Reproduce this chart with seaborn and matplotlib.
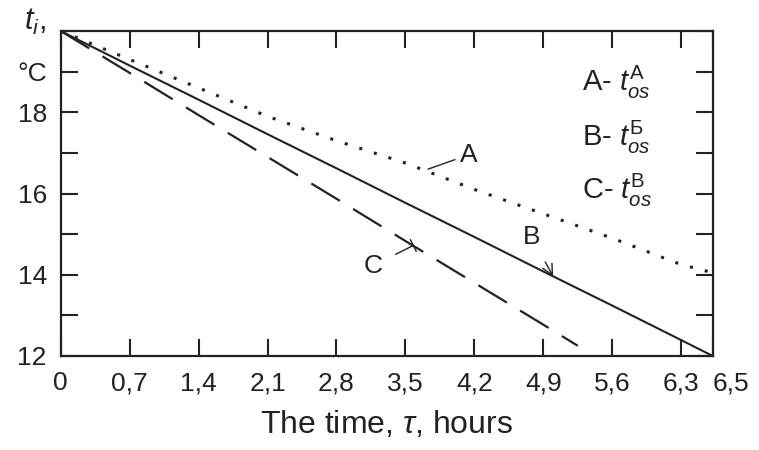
import matplotlib
matplotlib.use("Agg")
import matplotlib.pyplot as plt
import seaborn as sns
import numpy as np
import pandas as pd

# valores (horas, °C)
tempo = [0, 0.7, 1.4, 2.1, 2.8, 3.5, 4.2, 4.9, 5.6, 6.3, 6.62]
t_a = [20, 19.3, 18.6, 17.9, 17.3, 16.75, 16.1, 15.5, 14.9, 14.25, 14.05]
t_b = [20, 19.15, 18.31, 17.46, 16.62, 15.77, 14.93, 14.08, 13.24, 12.39, 12.0]
tempo_c = [0, 0.7, 1.4, 2.1, 2.8, 3.5, 4.2, 4.9, 5.25]
t_c = [20, 18.97, 17.93, 16.9, 15.87, 14.83, 13.8, 12.77, 12.25]

x_ticks = [0, 0.7, 1.4, 2.1, 2.8, 3.5, 4.2, 4.9, 5.6, 6.3, 6.62]
x_labels = ["0", "0,7", "1,4", "2,1", "2,8", "3,5", "4,2", "4,9", "5,6", "6,3", "6,5"]
y_ticks = [12, 13, 14, 15, 16, 17, 18, 19, 20]
y_labels = ["12", "", "14", "", "16", "", "18", "°C", ""]

sns.set_style("ticks")
plt.rcParams['font.family'] = ['Liberation Sans', 'DejaVu Sans']
plt.rcParams['mathtext.fontset'] = 'custom'
plt.rcParams['mathtext.rm'] = 'Liberation Sans'
plt.rcParams['mathtext.it'] = 'Liberation Sans:italic'

df_ab = pd.DataFrame({'tempo': tempo, 'A': t_a, 'B': t_b})
df_c = pd.DataFrame({'tempo': tempo_c, 'C': t_c})

fig = plt.figure(figsize=(7.59, 4.5), dpi=100)
ax = fig.add_axes([0.080, 0.209, 0.859, 0.722])

cor = '#222222'
sns.lineplot(data=df_ab, x='tempo', y='A', ax=ax, color=cor, lw=2.2,
             linestyle=(0, (1, 4)))
sns.lineplot(data=df_ab, x='tempo', y='B', ax=ax, color=cor, lw=1.5)
sns.lineplot(data=df_c, x='tempo', y='C', ax=ax, color=cor, lw=1.6,
             linestyle=(0, (15, 7)))

ax.set_xlim(0, 6.62)
ax.set_ylim(12, 20)
ax.set_xticks(x_ticks)
ax.set_xticklabels(x_labels)
ax.set_yticks(y_ticks)
ax.set_yticklabels(y_labels)
ax.tick_params(direction='in', length=12, width=1.5, top=True, right=True,
               labelsize=19, colors=cor)
ax.tick_params(axis='x', pad=11)
ax.tick_params(axis='y', pad=10)
ax.get_xticklabels()[-1].set_horizontalalignment('left')
for s in ax.spines.values():
    s.set_linewidth(1.6)
    s.set_color(cor)

ax.set_xlabel(r"The time, $\tau$, hours", fontsize=23, color=cor, labelpad=10)
ax.set_ylabel("")

# rótulo do eixo y no topo
ax.text(-0.04, 1.028, r"$t_i$,", transform=ax.transAxes, fontsize=22,
        ha='center', va='center', color=cor)

# rótulos das curvas
ax.annotate("A", xy=(3.73, 16.6), xytext=(4.05, 16.95), fontsize=19,
            va='center', ha='left', color=cor,
            arrowprops=dict(arrowstyle='-', color=cor, lw=1, shrinkA=1, shrinkB=0))
ax.annotate("B", xy=(5.0, 13.96), xytext=(4.78, 14.93), fontsize=19,
            va='center', ha='center', color=cor,
            arrowprops=dict(arrowstyle='->', color=cor, lw=1, shrinkA=8, shrinkB=0))
ax.annotate("C", xy=(3.58, 14.72), xytext=(3.17, 14.22), fontsize=19,
            va='center', ha='center', color=cor,
            arrowprops=dict(arrowstyle='-[, widthB=0.25, lengthB=0', color=cor,
                            lw=1, shrinkA=8, shrinkB=0))

# legenda em texto
ax.text(0.80, 0.843, r"A- $t_{os}^{\mathrm{A}}$", transform=ax.transAxes,
        fontsize=21, va='center', color=cor)
ax.text(0.80, 0.674, r"B- $t_{os}^{\mathrm{Б}}$", transform=ax.transAxes,
        fontsize=21, va='center', color=cor)
ax.text(0.80, 0.51, r"C- $t_{os}^{\mathrm{B}}$", transform=ax.transAxes,
        fontsize=21, va='center', color=cor)

plt.savefig("out.png", dpi=100)
